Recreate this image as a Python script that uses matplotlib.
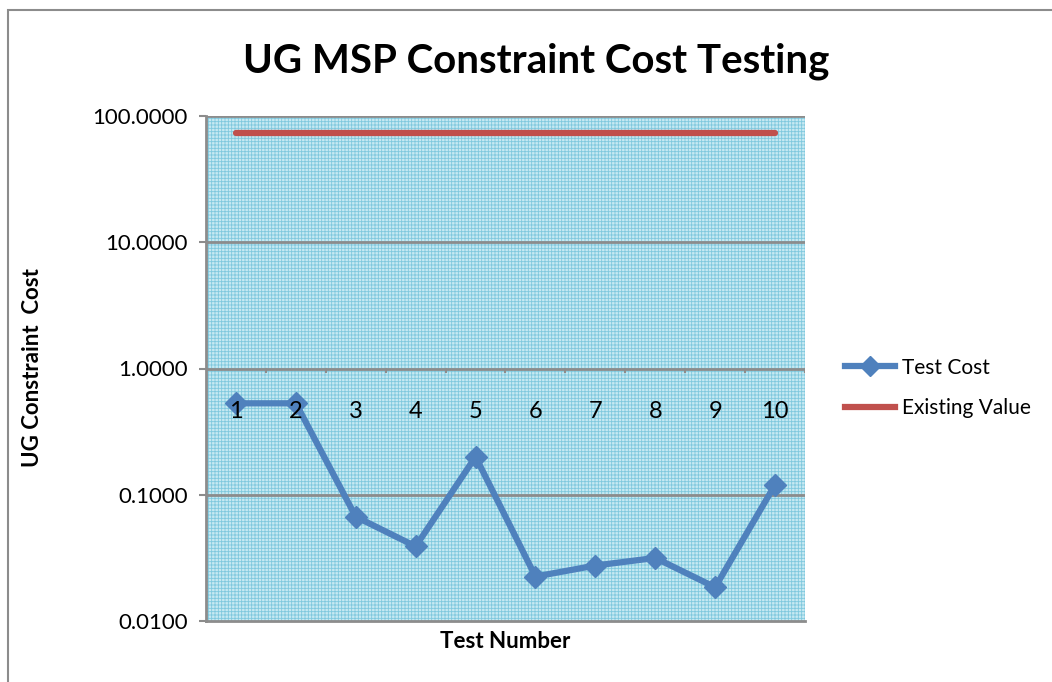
import matplotlib
matplotlib.use("Agg")
import matplotlib.pyplot as plt
from matplotlib.patches import Rectangle
from matplotlib.lines import Line2D
import numpy as np

tests = ["1", "2", "3", "4", "5", "6", "7", "8", "9", "10"]
test_cost = [0.53, 0.53, 0.067, 0.039, 0.20, 0.0225, 0.0275, 0.0316, 0.0185, 0.12]
existing_value = [73.0] * 10
y_ticks = [0.01, 0.1, 1, 10, 100]
y_ticklabels = ["0.0100", "0.1000", "1.0000", "10.0000", "100.0000"]

plt.rcParams['font.family'] = ['Lato', 'DejaVu Sans']
plt.rcParams['hatch.linewidth'] = 0.6
plt.rcParams['hatch.color'] = '#7fc8de'

W, H = 1052, 682
fig = plt.figure(figsize=(W / 100, H / 100), dpi=100)

# outer chart border
fig.patches.append(Rectangle((8 / W, -0.1), 1.2, 1 - 10 / H + 0.1, transform=fig.transFigure,
                             fill=False, edgecolor='#8c8c8c', linewidth=1.5, zorder=0))

left, right, top, bottom = 206, 805, 116, 621
ax = fig.add_axes([left / W, 1 - bottom / H, (right - left) / W, (bottom - top) / H])
ax.set_facecolor('#c6e9f2')
bg = Rectangle((0, 0), 1, 1, transform=ax.transAxes, facecolor='none',
               edgecolor='#7fc8de', hatch='+' * 5, linewidth=0, zorder=0)
ax.add_patch(bg)

x = np.arange(1, len(tests) + 1)
ax.set_yscale('log')
ax.set_ylim(0.01, 100)
ax.set_xlim(0.5, len(tests) + 0.5)

for yv in [0.1, 1, 10, 100]:
    ax.axhline(yv, color='#8c8c8c', linewidth=2, zorder=1)

# x axis line at y = 1 with ticks at category boundaries
for b in np.arange(1.5, len(tests) + 0.6, 1.0):
    ax.plot([b, b], [1.0, 0.93], color='#8c8c8c', linewidth=1.5, zorder=2)
for xi, lab in zip(x, tests):
    ax.text(xi, 0.46, lab, ha='center', va='center', fontsize=17, color='black', zorder=5)

ax.plot(x, existing_value, color='#c0504d', linewidth=4.5, solid_capstyle='round', zorder=3)
ax.plot(x, test_cost, color='#4f81bd', linewidth=4.5, marker='D', markersize=11,
        markeredgecolor='#4f81bd', zorder=4)

ax.set_xticks([])
ax.set_yticks(y_ticks)
ax.set_yticklabels(y_ticklabels, fontsize=16)
ax.yaxis.set_minor_locator(matplotlib.ticker.NullLocator())
ax.tick_params(axis='y', length=5, width=1.5, color='#8c8c8c', pad=8)
for s in ['top', 'right']:
    ax.spines[s].set_visible(False)
ax.spines['bottom'].set_color('#8c8c8c')
ax.spines['bottom'].set_linewidth(2)
ax.spines['left'].set_color('#8c8c8c')
ax.spines['left'].set_linewidth(2)

fig.text(536 / W, 1 - 61 / H, "UG MSP Constraint Cost Testing", ha='center', va='center',
         fontsize=29, fontweight='bold')
fig.text(33 / W, 1 - 368 / H, "UG Constraint  Cost", ha='center', va='center', rotation=90,
         fontsize=16, fontweight='bold')
fig.text(505 / W, 1 - 642 / H, "Test Number", ha='center', va='center',
         fontsize=16, fontweight='bold')

handles = [Line2D([], [], color='#4f81bd', linewidth=4.5, marker='D', markersize=10),
           Line2D([], [], color='#c0504d', linewidth=4.5)]
fig.legend(handles, ["Test Cost", "Existing Value"], loc='center left',
           bbox_to_anchor=(835 / W, 1 - 388 / H), frameon=False, fontsize=15,
           handlelength=2.4, labelspacing=1.0, handletextpad=0.3, borderpad=0)

fig.savefig("out.png", dpi=100)
